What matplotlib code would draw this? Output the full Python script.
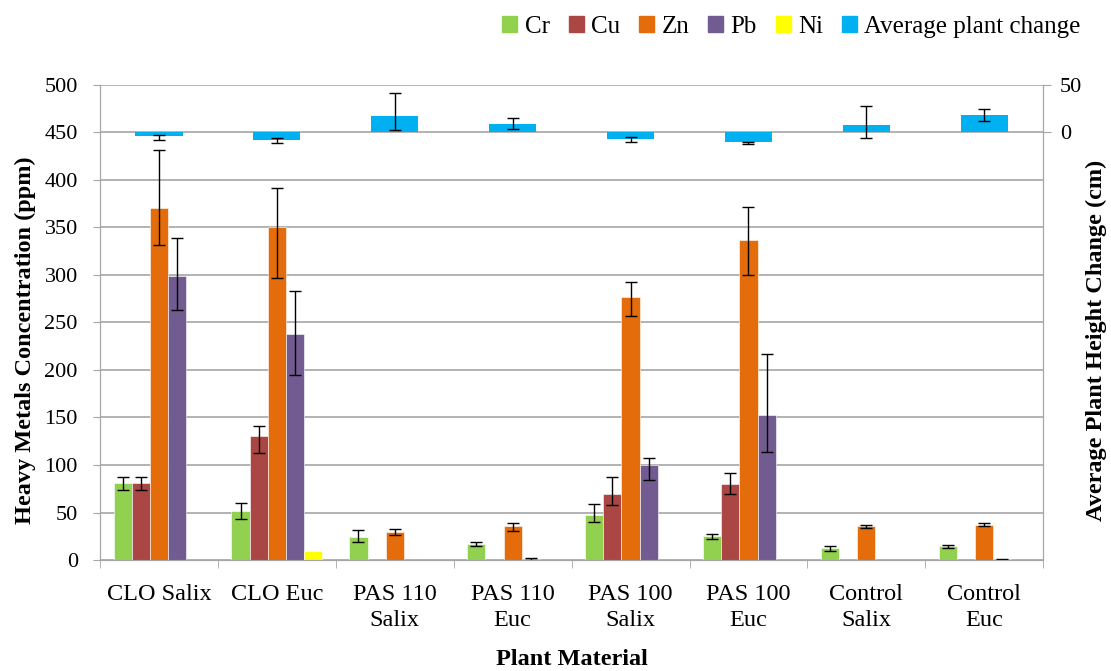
import numpy as np
import matplotlib.pyplot as plt
from matplotlib.patches import Patch

plt.rcParams['font.family'] = ['Liberation Serif', 'DejaVu Serif']

categories = ["CLO Salix", "CLO Euc", "PAS 110\nSalix", "PAS 110\nEuc",
              "PAS 100\nSalix", "PAS 100\nEuc", "Control\nSalix", "Control\nEuc"]

# heavy metals (ppm): value, lower error, upper error
cr = [81.5, 51.5, 24.5, 16.5, 47, 25.5, 13, 14.3]
cr_lo = [7.7, 8, 5.6, 2, 6.7, 3, 3, 2]
cr_hi = [6.3, 9, 7, 2, 12, 2, 2, 2]

cu = [81.5, 130.6, 0, 0, 69, 80.5, 0, 0]
cu_lo = [7.7, 18, 0, 0, 11.5, 11, 0, 0]
cu_hi = [6.3, 10, 0, 0, 18, 11, 0, 0]

zn = [370, 350, 29.4, 36, 277, 337, 36, 37]
zn_lo = [38, 53, 3.1, 5, 20.6, 37, 2, 1.5]
zn_hi = [62, 42, 3.5, 3.2, 16, 35, 1, 1.5]

pb = [298.6, 238, 0, 1, 100, 152.4, 0, 0.8]
pb_lo = [35, 43, 0, 1, 16, 39, 0, 0.5]
pb_hi = [40, 45, 0, 1.5, 7.7, 64, 0, 0.5]

ni = [0, 10, 0, 0, 0, 0, 0, 0]
ni_lo = [0] * 8
ni_hi = [0] * 8

# average plant height change (cm)
avg = [-4.2, -8, 16.8, 9.1, -7, -10.5, 8.1, 18.3]
avg_lo = [3.8, 3.6, 14.7, 5.5, 2.8, 1.3, 14.4, 6.4]
avg_hi = [1.8, 1.7, 25.2, 6, 1.8, 0.7, 19.6, 6.6]

series = [
    ("Cr", cr, cr_lo, cr_hi, "#92D050"),
    ("Cu", cu, cu_lo, cu_hi, "#AA4643"),
    ("Zn", zn, zn_lo, zn_hi, "#E46C0A"),
    ("Pb", pb, pb_lo, pb_hi, "#725B91"),
    ("Ni", ni, ni_lo, ni_hi, "#FFFF00"),
]

fig = plt.figure(figsize=(11.11, 6.71), dpi=100)
ax = fig.add_axes([0.09, 0.1654, 0.849, 0.708])

x = np.arange(len(categories))
w = 1 / 6.5
err_kw = dict(fmt="none", ecolor="black", elinewidth=1, capsize=4,
              capthick=1, zorder=4)

for i, (name, vals, lo, hi, col) in enumerate(series):
    pos = x + (i - 2) * w
    ax.bar(pos, vals, w, color=col, edgecolor="white", linewidth=0.4, zorder=3)
    lo, hi, vals = np.array(lo), np.array(hi), np.array(vals)
    m = (lo + hi) > 0
    if m.any():
        ax.errorbar(pos[m], vals[m], yerr=[lo[m], hi[m]], **err_kw)

ax.set_xlim(-0.5, len(categories) - 0.5)
ax.set_ylim(0, 500)
ax.set_yticks(np.arange(0, 501, 50))
ax.grid(axis="y", color="#A6A6A6", linewidth=1.2, zorder=0)
ax.set_axisbelow(True)

ax.set_xticks(x)
ax.set_xticklabels(categories, fontsize=17.5, va="top", linespacing=1.35)
ax.tick_params(axis="x", which="major", length=0, pad=17)
ax.set_xticks(np.arange(-0.5, len(categories), 1), minor=True)
ax.tick_params(axis="x", which="minor", length=6, color="#A6A6A6")
ax.tick_params(axis="y", labelsize=16, length=5, pad=11, color="#A6A6A6")

for side in ["left", "bottom", "right"]:
    ax.spines[side].set_color("#A6A6A6")
ax.spines["top"].set_visible(False)

ax.set_ylabel("Heavy Metals Concentration (ppm)", fontsize=17.5,
              fontweight="bold")
ax.yaxis.set_label_coords(-0.068, 0.463)
ax.set_xlabel("Plant Material", fontsize=17.5, fontweight="bold", labelpad=13)

ax2 = ax.twinx()
ax2.bar(x, avg, 0.4, color="#00B0F0", zorder=3)
ax2.errorbar(x, avg, yerr=[avg_lo, avg_hi], **err_kw)
ax2.set_ylim(-450, 50)
ax2.set_yticks([0, 50])
ax2.tick_params(axis="y", labelsize=16, length=6, pad=6, color="#A6A6A6")
for side in ["left", "bottom", "right"]:
    ax2.spines[side].set_color("#A6A6A6")
ax2.spines["top"].set_visible(False)
ax2.set_ylabel("Average Plant Height Change (cm)", fontsize=17.5,
               fontweight="bold")
ax2.yaxis.set_label_coords(1.045, 0.463)

handles = [Patch(color=s[4], label=s[0]) for s in series]
handles.append(Patch(color="#00B0F0", label="Average plant change"))
fig.legend(handles=handles, loc="upper right", bbox_to_anchor=(0.993, 1.01),
           ncol=6, frameon=False, fontsize=18, handlelength=0.6,
           handleheight=0.6, handletextpad=0.3, columnspacing=0.75)

fig.savefig("out.png", dpi=100)
